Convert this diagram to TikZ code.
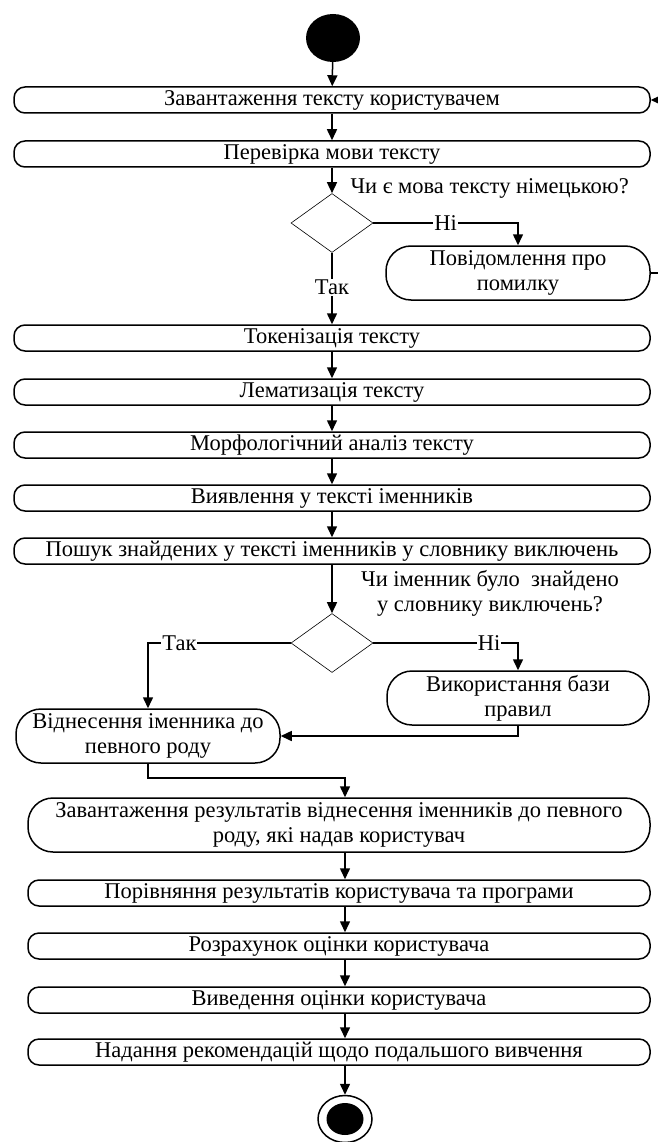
\documentclass[tikz,border=0pt]{standalone}
\usepackage{fontspec}
\setmainfont{Liberation Serif}
\usetikzlibrary{arrows.meta,shapes.geometric}

\tikzset{
  act/.style={draw,line width=1.5pt,rounded corners=11pt,minimum height=26pt,
    inner sep=1pt,align=center},
  actw/.style={act,rounded corners=25pt,minimum height=54pt},
  decide/.style={draw,diamond,aspect=1.4,line width=0.6pt,minimum width=82pt,
    minimum height=59pt,inner sep=0pt},
  flow/.style={line width=1.5pt,-{Triangle[length=11pt,width=10pt]}},
  lbl/.style={fill=white,inner sep=1pt}
}

\begin{document}
\begin{tikzpicture}[x=1pt,y=-1pt,font=\fontsize{22.5}{25}\selectfont]
\useasboundingbox (0,0) rectangle (657,1142);

% start and first steps
\node[ellipse,fill=black,minimum width=54pt,minimum height=48pt,inner sep=0pt] (start) at (333,38) {};
\node[act,minimum width=636pt] (load) at (332,100) {Завантаження тексту користувачем};
\node[act,minimum width=636pt] (check) at (332,154) {Перевірка мови тексту};
\node[decide] (lang) at (332,223) {};
\node[anchor=west] (qlang) at (347,188) {Чи є мова тексту німецькою?};
\node[actw,minimum width=264pt] (err) at (518,273) {Повідомлення про\\помилку};

% text processing
\node[act,minimum width=636pt] (tok) at (332,338) {Токенізація тексту};
\node[act,minimum width=636pt] (lem) at (332,392) {Лематизація тексту};
\node[act,minimum width=636pt] (morph) at (332,445) {Морфологічний аналіз тексту};
\node[act,minimum width=636pt] (noun) at (332,498) {Виявлення у тексті іменників};
\node[act,minimum width=636pt] (search) at (332,551) {Пошук знайдених у тексті іменників у словнику виключень};
\node[decide] (found) at (332,643) {};
\node[align=center] (qfound) at (490,593) {Чи іменник було\ \ знайдено\\у словнику виключень?};
\node[actw,minimum width=262pt] (rules) at (518,698) {Використання бази\\правил};
\node[actw,minimum width=264pt] (gender) at (148,736) {Віднесення іменника до\\певного роду};

% results
\coordinate (gbend) at (345,778);
\node[actw,minimum width=622pt] (upload) at (339,825) {Завантаження результатів віднесення іменників до певного\\роду, які надав користувач};
\node[act,minimum width=622pt] (compare) at (339,893) {Порівняння результатів користувача та програми};
\node[act,minimum width=622pt] (score) at (339,946) {Розрахунок оцінки користувача};
\node[act,minimum width=622pt] (show) at (339,1000) {Виведення оцінки користувача};
\node[act,minimum width=622pt] (recom) at (339,1052) {Надання рекомендацій щодо подальшого вивчення};
\node[ellipse,draw,line width=1.5pt,minimum width=54pt,minimum height=47pt,inner sep=0pt] (finish) at (345,1119) {};
\node[ellipse,fill=black,minimum width=37pt,minimum height=32pt,inner sep=0pt] (finishdot) at (finish) {};

% connectors
\draw[flow] (start) -- (load);
\draw[flow] (load) -- (check);
\draw[flow] (check) -- (lang);
\draw[flow] (lang.east) -| node[lbl,pos=0.25]{Ні} (err.north);
\draw[flow] (lang) -- node[lbl,pos=0.48]{Так} (tok);
\draw[flow] (err.east) -- ++(12,0) |- (load.east);
\draw[flow] (tok) -- (lem);
\draw[flow] (lem) -- (morph);
\draw[flow] (morph) -- (noun);
\draw[flow] (noun) -- (search);
\draw[flow] (search) -- (found);
\draw[flow] (found.west) -| node[lbl,pos=0.39]{Так} (gender.north);
\draw[flow] (found.east) -| node[lbl,pos=0.4]{Ні} (rules.north);
\draw[flow] (rules.south) |- (gender.east);
\draw[flow] (gender.south) |- (gbend) -- (upload.north -| gbend);
\draw[flow] (upload.south -| gbend) -- (compare.north -| gbend);
\draw[flow] (compare.south -| gbend) -- (score.north -| gbend);
\draw[flow] (score.south -| gbend) -- (show.north -| gbend);
\draw[flow] (show.south -| gbend) -- (recom.north -| gbend);
\draw[flow] (recom.south -| gbend) -- (finish);
\end{tikzpicture}
\end{document}
